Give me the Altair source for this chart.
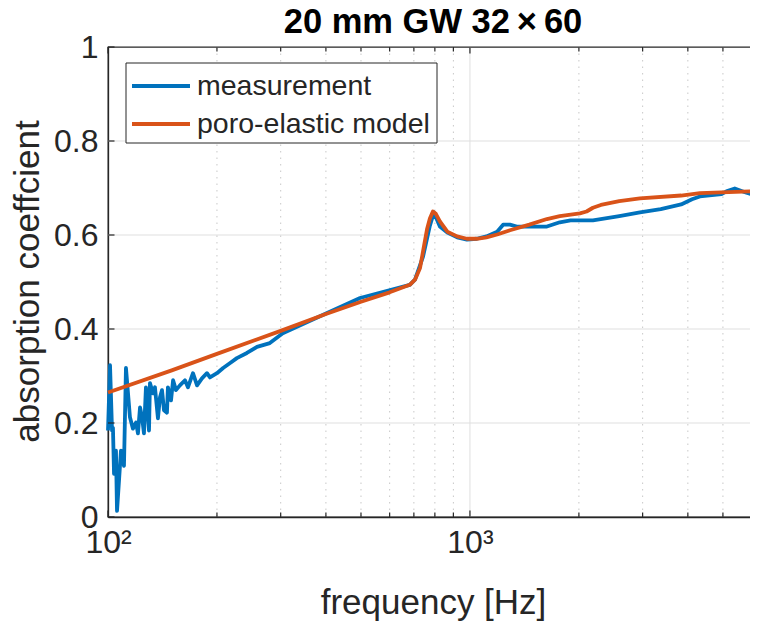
import altair as alt
import pandas as pd

# ---------------- data ----------------
meas_freq = [100, 101.3, 102.6, 103.2, 103.9, 105.2, 105.9, 108.6, 110.7, 112.1,
             115.0, 117.2, 119.5, 121.0, 122.6, 124.2, 125.7, 127.3, 129.8, 130.6,
             133.1, 134.8, 137.4, 139.2, 141.0, 142.8, 145.5, 146.4, 149.3, 151.3,
             154.1, 158.0, 163.2, 166.3, 171.7, 176.2, 181.8, 187.7, 191.3, 200,
             208, 217, 227, 242, 258, 280, 304, 403, 497, 602,
             682, 705, 742, 774, 795, 826, 866, 922, 981, 1044,
             1111, 1189, 1235, 1290, 1347, 1459, 1632, 1771, 1897, 2013,
             2187, 2586, 2949, 3367, 3833, 4108, 4318, 4954, 5112, 5391,
             5750, 5993, 6209]
meas_alpha = [0.184, 0.323, 0.184, 0.190, 0.092, 0.141, 0.013, 0.141, 0.109, 0.317,
              0.212, 0.188, 0.201, 0.178, 0.233, 0.212, 0.178, 0.276, 0.184, 0.285,
              0.263, 0.276, 0.210, 0.255, 0.270, 0.227, 0.222, 0.276, 0.248, 0.291,
              0.270, 0.280, 0.291, 0.276, 0.306, 0.280, 0.295, 0.306, 0.297, 0.306,
              0.317, 0.327, 0.338, 0.349, 0.362, 0.370, 0.391, 0.434, 0.466, 0.483,
              0.494, 0.505, 0.554, 0.618, 0.648, 0.618, 0.605, 0.595, 0.590, 0.592,
              0.597, 0.607, 0.622, 0.622, 0.618, 0.618, 0.618, 0.627, 0.631, 0.631,
              0.631, 0.640, 0.648, 0.655, 0.665, 0.676, 0.682, 0.687, 0.693, 0.699,
              0.691, 0.687, 0.693]

model_freq = [100, 150, 200, 300, 400, 500, 600, 682, 705, 728,
              742, 761, 775, 790, 805, 826, 866, 922, 981, 1044,
              1111, 1189, 1290, 1459, 1632, 1771, 2013, 2100, 2187, 2300,
              2586, 2949, 3833, 4318, 5936, 6209]
model_alpha = [0.265, 0.312, 0.347, 0.396, 0.432, 0.458, 0.478, 0.494, 0.505, 0.530,
               0.565, 0.612, 0.635, 0.650, 0.645, 0.629, 0.607, 0.597, 0.592, 0.592,
               0.595, 0.601, 0.610, 0.622, 0.634, 0.640, 0.646, 0.650, 0.658, 0.664,
               0.672, 0.678, 0.684, 0.689, 0.693, 0.693]

series_names = ["measurement", "poro-elastic model"]
series_colors = ["#0072BD", "#D95319"]

y_ticks = [0, 0.2, 0.4, 0.6, 0.8, 1]
x_major = [100, 1000]
x_minor = [200, 300, 400, 500, 600, 700, 800, 900, 2000, 3000, 4000, 5000, 6000]

title_text = "20 mm GW 32\u2009\u00d7\u200960"
x_title = "frequency [Hz]"
y_title = "absorption coeffcient"

# ---------------- chart ----------------
W, H = 650, 470
FONT = "Liberation Sans"
AX = "#262626"

xscale = alt.Scale(type="log", domain=[100, 6250], nice=False)
yscale = alt.Scale(domain=[0, 1], nice=False)

x_axis = alt.Axis(values=x_major,
                  labelExpr="datum.value == 100 ? '10\u00b2' : '10\u00b3'",
                  grid=False, ticks=False, labelPadding=10, labelFlush=False,
                  labelFontSize=32, labelFont=FONT, labelColor=AX,
                  domainColor=AX, domainWidth=1.3,
                  title=x_title, titleFont=FONT, titleFontSize=35,
                  titleFontWeight="normal", titleColor=AX,
                  titleX=W / 2, titleY=85, titleBaseline="middle",
                  titleAlign="center")
y_axis = alt.Axis(values=y_ticks, format="~g", grid=False, ticks=False,
                  labelPadding=10, labelFlush=False, labelFontSize=32,
                  labelFont=FONT, labelColor=AX, domainColor=AX, domainWidth=1.3,
                  title=y_title, titleFont=FONT, titleFontSize=35,
                  titleFontWeight="normal", titleColor=AX,
                  titleAngle=270, titleX=-81, titleY=H / 2 - 1,
                  titleBaseline="middle", titleAlign="center")


def X(field):
    return alt.X(field, scale=xscale, axis=x_axis)


def Y(field):
    return alt.Y(field, scale=yscale, axis=y_axis)


meas_df = pd.DataFrame({"f": meas_freq, "a": meas_alpha})
model_df = pd.DataFrame({"f": model_freq, "a": model_alpha})

ygrid = alt.Chart(pd.DataFrame({"a": y_ticks[1:-1]})).mark_rule(
    color="#DFDFDF", strokeWidth=1
).encode(y=Y("a:Q"), x=alt.value(0), x2=alt.value(W))

xgrid_major = alt.Chart(pd.DataFrame({"f": x_major[1:]})).mark_rule(
    color="#DFDFDF", strokeWidth=1
).encode(x=X("f:Q"), y=alt.value(0), y2=alt.value(H))

xgrid_minor = alt.Chart(pd.DataFrame({"f": x_minor})).mark_rule(
    color="#C8C8C8", strokeWidth=1, strokeDash=[1.5, 5]
).encode(x=X("f:Q"), y=alt.value(0), y2=alt.value(H))

meas_line = alt.Chart(meas_df).mark_line(
    color=series_colors[0], strokeWidth=3.8, strokeJoin="round"
).encode(x=X("f:Q"), y=Y("a:Q"))

model_line = alt.Chart(model_df).mark_line(
    color=series_colors[1], strokeWidth=3.8, strokeJoin="round"
).encode(x=X("f:Q"), y=Y("a:Q"))

# inward tick marks (MATLAB style box)
TK = 6.5
TKm = 4.5
ytick_df = pd.DataFrame({"a": y_ticks})
ytk_left = alt.Chart(ytick_df).mark_rule(color=AX, strokeWidth=1.2).encode(
    y=Y("a:Q"), x=alt.value(0), x2=alt.value(TK))
ytk_right = alt.Chart(ytick_df).mark_rule(color=AX, strokeWidth=1.2).encode(
    y=Y("a:Q"), x=alt.value(W - TK), x2=alt.value(W))
xmaj_df = pd.DataFrame({"f": x_major})
xmin_df = pd.DataFrame({"f": x_minor})
xtk = []
for df, ln in ((xmaj_df, TK), (xmin_df, TKm)):
    xtk.append(alt.Chart(df).mark_rule(color=AX, strokeWidth=1.2).encode(
        x=X("f:Q"), y=alt.value(H), y2=alt.value(H - ln)))
    xtk.append(alt.Chart(df).mark_rule(color=AX, strokeWidth=1.2).encode(
        x=X("f:Q"), y=alt.value(0), y2=alt.value(ln)))

# legend box (MATLAB style, inside the axes, top-left)
one = pd.DataFrame({"k": [0]})
leg_box = alt.Chart(one).mark_rect(
    fill="white", stroke=AX, strokeWidth=1
).encode(x=alt.value(18), x2=alt.value(329), y=alt.value(16), y2=alt.value(96))
leg_layers = [leg_box]
for i, (name, col) in enumerate(zip(series_names, series_colors)):
    yy = 39 + 38 * i
    leg_layers.append(alt.Chart(one).mark_rule(color=col, strokeWidth=3.8).encode(
        x=alt.value(24), x2=alt.value(82), y=alt.value(yy)))
    leg_layers.append(alt.Chart(one).mark_text(
        align="left", baseline="middle", fontSize=28.5, font=FONT, color=AX, text=name
    ).encode(x=alt.value(89), y=alt.value(yy)))

title_mark = alt.Chart(one).mark_text(
    align="center", baseline="alphabetic", fontSize=34.5, fontWeight="bold",
    font=FONT, color="#000000", text=title_text
).encode(x=alt.value(W / 2), y=alt.value(-14))

chart = alt.layer(
    ygrid, xgrid_major, xgrid_minor, meas_line, model_line,
    ytk_left, ytk_right, *xtk, *leg_layers, title_mark
).properties(
    width=W, height=H,
    autosize=alt.AutoSizeParams(type="none"),
    padding={"left": 100, "top": 39, "right": -8, "bottom": 106},
).configure_view(stroke=AX, strokeWidth=1.3)

chart.save("out.html", embed_options={"renderer": "svg", "actions": False})
